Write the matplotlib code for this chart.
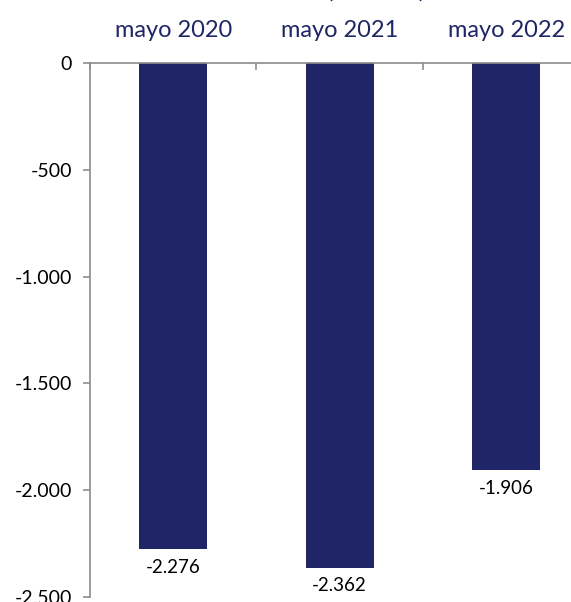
import numpy as np
import matplotlib.pyplot as plt
from matplotlib.ticker import FuncFormatter

# data
categories = ["mayo 2020", "mayo 2021", "mayo 2022"]
values = [-2276, -2362, -1906]
yticks = [0, -500, -1000, -1500, -2000, -2500]

navy = "#1f2566"
axis_grey = "#8c8c8c"

plt.rcParams['font.family'] = ['Lato', 'DejaVu Sans']


def fmt(v, pos=None):
    s = f"{abs(int(v)):,}".replace(",", ".")
    return "-" + s if v < 0 else s


fig = plt.figure(figsize=(5.71, 6.02), dpi=100)
ax = fig.add_axes([90 / 571, 1 - 597 / 602, 499.5 / 571, 534 / 602])

x = np.arange(len(categories))
ax.bar(x, values, width=0.41, color=navy, zorder=2)

for xi, v in zip(x, values):
    ax.text(xi, v - 45, fmt(v), ha="center", va="top", fontsize=13.5, color="black")

ax.set_ylim(-2500, 0)
ax.set_xlim(-0.5, 2.5)
ax.set_yticks(yticks)
ax.yaxis.set_major_formatter(FuncFormatter(fmt))

# category axis sits at the top (y = 0)
ax.xaxis.tick_top()
ax.set_xticks(x)
ax.set_xticklabels(categories, fontsize=17, color=navy)
ax.set_xticks([-0.5, 0.5, 1.5, 2.5], minor=True)
ax.tick_params(axis="x", which="major", length=0, pad=16)
ax.tick_params(axis="x", which="minor", direction="in", length=5, color=axis_grey, width=1.2)
ax.tick_params(axis="y", length=5, color=axis_grey, width=1.2, labelsize=14, pad=8)

for s in ["bottom", "right"]:
    ax.spines[s].set_visible(False)
for s in ["top", "left"]:
    ax.spines[s].set_color(axis_grey)
    ax.spines[s].set_linewidth(1.2)

# title cut off at the top of the image
fig.text(376 / 571, 1.004, "(millones)", ha="center", va="baseline", fontsize=17, color=navy)

fig.savefig("out.png", dpi=100)
